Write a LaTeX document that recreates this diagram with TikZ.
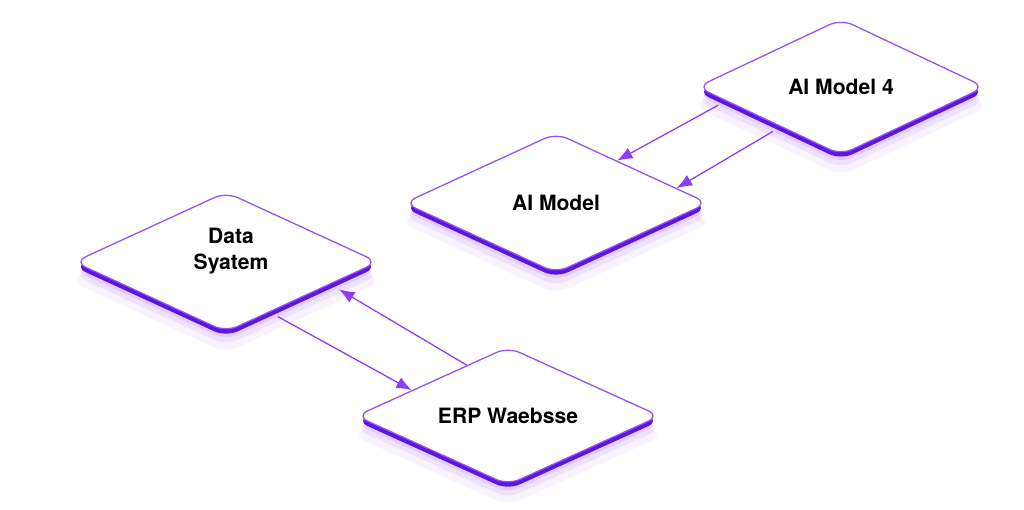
\documentclass[tikz,border=0pt]{standalone}
\usepackage{fontspec}
\setmainfont{TeX Gyre Heros}
\usetikzlibrary{shapes.geometric,shadows,arrows.meta,calc}
\definecolor{edgeviolet}{RGB}{150,80,240}
\definecolor{deepviolet}{RGB}{92,22,226}
\definecolor{glowviolet}{RGB}{170,110,250}
\definecolor{arrowviolet}{RGB}{140,60,245}

\begin{document}
\begin{tikzpicture}[x=0.025cm, y=-0.025cm,
    txt/.style={font=\fontsize{15}{18}\selectfont\bfseries, align=center},
    box/.style={diamond, aspect=2.2, txt, draw=edgeviolet, line width=0.9pt, fill=white,
        rounded corners=9pt, minimum width=7.6cm, minimum height=3.5cm, inner sep=0pt,
        general shadow={fill=glowviolet, opacity=0.08, shadow yshift=-13pt, shadow scale=1.03},
        general shadow={fill=glowviolet, opacity=0.12, shadow yshift=-9pt, shadow scale=1.01},
        general shadow={fill=glowviolet, opacity=0.16, shadow yshift=-6pt, shadow scale=1.0},
        drop shadow={fill=deepviolet, opacity=1, shadow xshift=0pt, shadow yshift=-3.5pt}},
    flow/.style={draw=arrowviolet, line width=0.9pt, -{Latex[length=11pt, width=8.5pt]}}]
    \path[fill=white, use as bounding box] (0,0) rectangle (1024,510);

    \node[box, minimum width=7.2cm, minimum height=3.4cm] (ai4) at (841,87) {AI Model 4};
    \node[box] (aim) at (556,203) {AI Model};
    \node[box] (data) at (226,262) {};
    \node[txt] (datatxt) at (231,251) {Data\\Syatem};
    \node[box, minimum height=3.45cm] (erp) at (508,416) {ERP Waebsse};

    \draw[flow] ($(ai4.west)!0.15!(ai4.south)+(0,8)$) -- ($(aim.north)!0.40!(aim.east)$);
    \draw[flow] ($(ai4.west)!0.53!(ai4.south)+(0,8)$) -- ($(aim.north)!0.79!(aim.east)$);
    \draw[flow] ($(erp.north)!0.27!(erp.west)$) -- ($(data.east)!0.26!(data.south)+(0,9)$);
    \draw[flow] ($(data.east)!0.66!(data.south)+(0,8)$) -- ($(erp.north)!0.63!(erp.west)$);
\end{tikzpicture}
\end{document}
